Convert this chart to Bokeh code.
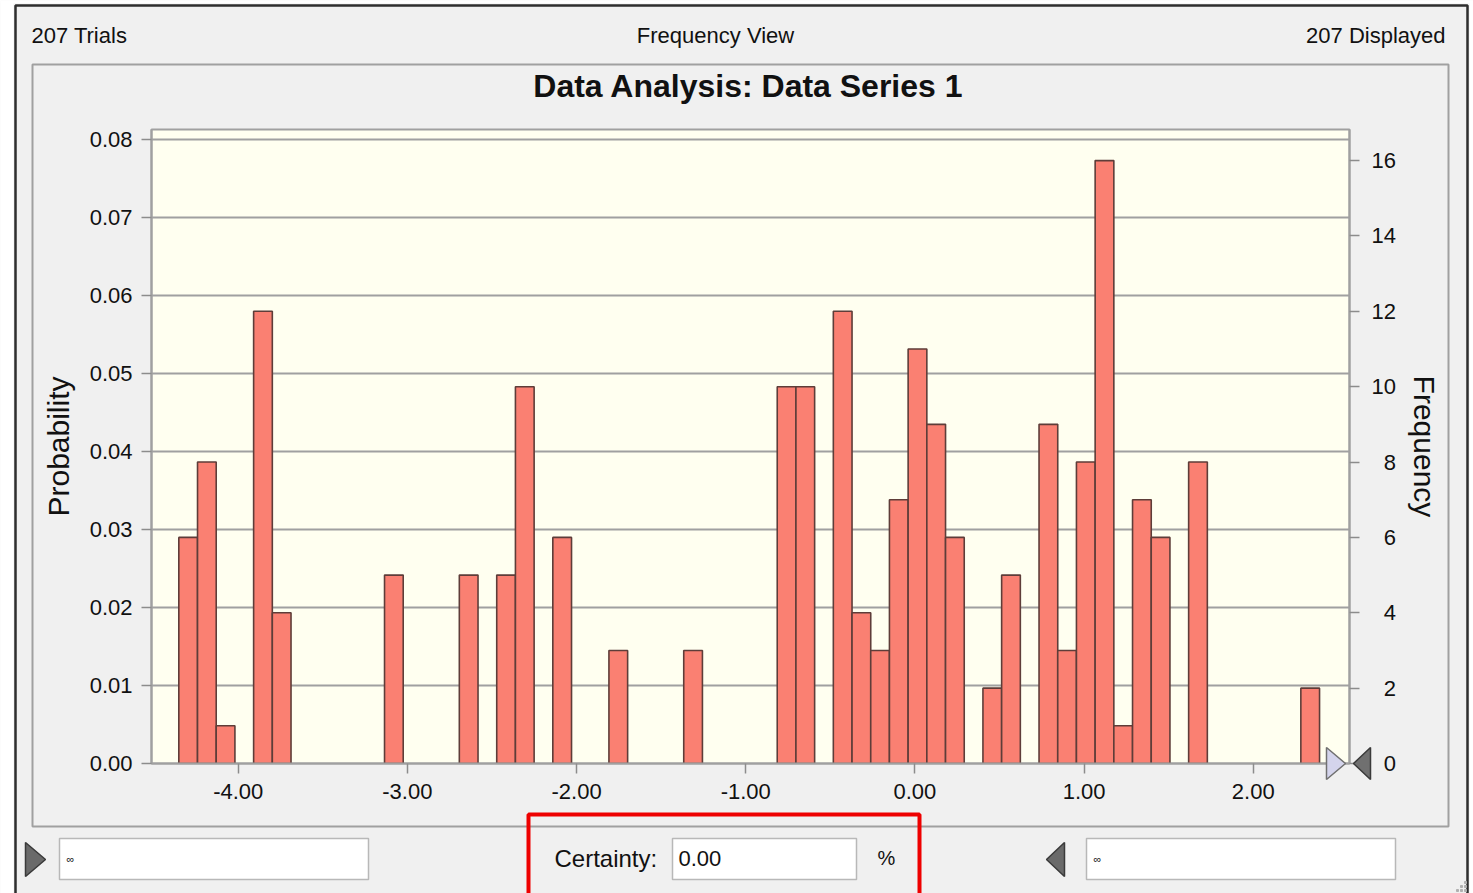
from bokeh.plotting import figure
from bokeh.models import (Range1d, LinearAxis, NumeralTickFormatter, FixedTicker,
                          ColumnDataSource)
from bokeh.core.properties import value
from bokeh.embed import file_html
from bokeh.resources import INLINE

# ---------------- data ----------------
total_trials = 207
bin_start = -4.351
bin_width = 0.11054
counts = [6, 8, 1, 0, 12, 4, 0, 0, 0, 0,
          0, 5, 0, 0, 0, 5, 0, 5, 10, 0,
          6, 0, 0, 3, 0, 0, 0, 3, 0, 0,
          0, 0, 10, 10, 0, 12, 4, 3, 7, 11,
          9, 6, 0, 2, 5, 0, 9, 3, 8, 16,
          1, 7, 6, 0, 8, 0, 0, 0, 0, 0,
          2]
x_ticks = [-4, -3, -2, -1, 0, 1, 2]
prob_ticks = [0.00, 0.01, 0.02, 0.03, 0.04, 0.05, 0.06, 0.07, 0.08]
freq_ticks = [0, 2, 4, 6, 8, 10, 12, 14, 16]
header_left = "207 Trials"
header_mid = "Frequency View"
header_right = "207 Displayed"
chart_title = "Data Analysis: Data Series 1"
certainty_label = "Certainty:"
certainty_value = "0.00"

lefts, rights, tops = [], [], []
for i, c in enumerate(counts):
    if c > 0:
        lefts.append(bin_start + i * bin_width)
        rights.append(bin_start + (i + 1) * bin_width)
        tops.append(c / total_trials)
src = ColumnDataSource(dict(left=lefts, right=rights, top=tops, bottom=[0] * len(tops)))

FONT = "Liberation Sans"
W, H = 1473, 893
y_max = 0.08128

# ---------------- chart figure ----------------
p = figure(width=W, height=H, output_backend="svg", toolbar_location=None,
           x_range=Range1d(-4.5125, 2.569), y_range=Range1d(0, y_max),
           min_border_left=151, min_border_right=124, min_border_top=129,
           min_border_bottom=130)
p.background_fill_color = "#FFFFF0"
p.border_fill_color = "#F0F0F0"
p.outline_line_color = "#a0a0a0"
p.outline_line_width = 2
p.extra_y_ranges = {"freq": Range1d(0, y_max * total_trials)}

p.quad(left="left", right="right", top="top", bottom="bottom", source=src,
       fill_color="#FA8072", line_color="#5e3d39", line_width=1.6)

p.xgrid.visible = False
p.ygrid.ticker = FixedTicker(ticks=prob_ticks)
p.ygrid.grid_line_color = "#a0a0a0"
p.ygrid.grid_line_width = 2


def style_axis(ax, tick_out, standoff):
    ax.axis_line_color = "#a0a0a0"
    ax.axis_line_width = 2
    ax.major_tick_line_color = "#8c8c8c"
    ax.major_tick_line_width = 1.5
    ax.major_tick_in = 0
    ax.major_tick_out = tick_out
    ax.minor_tick_line_color = None
    ax.major_label_text_font = FONT
    ax.major_label_text_font_size = "22px"
    ax.major_label_text_color = "#111111"
    ax.major_label_standoff = standoff
    ax.axis_label_text_font = FONT
    ax.axis_label_text_font_size = "30px"
    ax.axis_label_text_font_style = "normal"
    ax.axis_label_text_color = "#111111"


xa = p.xaxis[0]
xa.ticker = FixedTicker(ticks=x_ticks)
xa.formatter = NumeralTickFormatter(format="0.00")
style_axis(xa, 10, 10)

ya = p.yaxis[0]
ya.ticker = FixedTicker(ticks=prob_ticks)
ya.formatter = NumeralTickFormatter(format="0.00")
ya.axis_label = "Probability"
style_axis(ya, 10, 9)
ya.axis_label_standoff = 12

ra = LinearAxis(y_range_name="freq", ticker=FixedTicker(ticks=freq_ticks),
                axis_label="Frequency")
style_axis(ra, 10, 12)
# right-align the single-digit labels (pad with a digit-wide figure space)
ra.major_label_overrides = {t: ("\u2007" + str(t)) if t < 10 else str(t) for t in freq_ticks}
ra.axis_label_standoff = 9
p.add_layout(ra, "right")

# ---------------- dialog overlay (pixel coordinates, y down) ----------------
q = figure(width=W, height=H, output_backend="svg", toolbar_location=None,
           x_range=Range1d(0, W), y_range=Range1d(H, 0), min_border=0,
           x_axis_type=None, y_axis_type=None,
           styles={"position": "absolute", "left": "0px", "top": "0px"})
q.outline_line_color = None
q.background_fill_color = None
q.border_fill_color = None
q.xgrid.visible = False
q.ygrid.visible = False


def txt(s, X, Y, size, align="left", style="normal"):
    q.text(x=[X], y=[Y], text=[s], text_font=value(FONT), text_font_size=value(size),
           text_align=value(align), text_baseline=value("middle"),
           text_color="#111111", text_font_style=value(style))


def box(X0, Y0, X1, Y1, fill=None, line=None, lw=1.0):
    q.quad(left=[X0], right=[X1], top=[Y0], bottom=[Y1], fill_color=fill,
           line_color=line, line_width=lw)


def tri(xs, ys, fill, line="#3a3a3a"):
    q.patch(x=xs, y=ys, fill_color=fill, line_color=line, line_width=1.5)


# white outside the dialog window
box(0, 0, 13, H, fill="#FFFFFF")
box(0, 0, W, 3, fill="#FFFFFF")
box(1469, 0, W, H, fill="#FFFFFF")
# dark window edge
q.line(x=[15, 15, 1467, 1467], y=[H + 5, 5, 5, H + 5], line_color="#2e2e2e", line_width=2.5)

# header
txt(header_left, 31, 35, "22px")
txt(header_mid, 715, 35, "22px", align="center")
txt(header_right, 1445, 35, "22px", align="right")

# chart panel border
box(32, 64, 1448, 826, fill=None, line="#a0a0a0", lw=2)

# chart title
txt(chart_title, 748, 85, "32px", align="center", style="bold")

# certainty grabbers at the end of the x axis
tri([1326, 1345, 1326], [747, 763, 779], "#d4d4ec", "#707070")
tri([1370, 1353, 1370], [747, 763, 779], "#707070", "#3a3a3a")

# bottom controls
tri([25, 45, 25], [842, 859, 876], "#6a6a6a")
box(59, 838, 368, 879, fill="#FFFFFF", line="#b8b8b8", lw=1.5)
txt("\u221e", 66, 858, "11px")

txt(certainty_label, 554, 858, "24px")
box(672, 838, 856, 879, fill="#FFFFFF", line="#b8b8b8", lw=1.5)
txt(certainty_value, 678, 858, "22px")
txt("%", 886, 857, "20px", align="center")

tri([1064, 1046, 1064], [842, 859, 876], "#6a6a6a")
box(1086, 838, 1395, 879, fill="#FFFFFF", line="#b8b8b8", lw=1.5)
txt("\u221e", 1093, 858, "11px")

# resize grip
q.scatter(x=[1465, 1461, 1465, 1457, 1461, 1465], y=[882, 886, 886, 890, 890, 890],
          marker="square", size=2, color="#b0b0b0")

# red highlight box
q.line(x=[528, 528, 919, 919], y=[H + 10, 814, 814, H + 10], line_color="#ee0000",
       line_width=4)

open("out.html", "w").write(file_html([p, q], INLINE))
